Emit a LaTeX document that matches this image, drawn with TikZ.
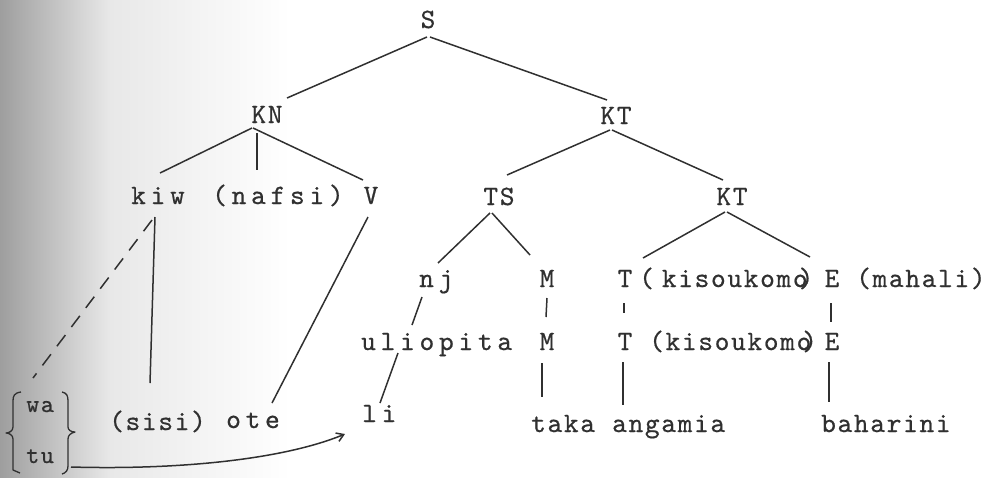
\documentclass[tikz,border=0pt]{standalone}
\usepackage{fontspec}
\usetikzlibrary{calc,arrows.meta}
\newfontfamily\twA{lmmono10-regular.otf}[LetterSpace=17,FakeBold=0.6]
\newfontfamily\twB{lmmono10-regular.otf}[LetterSpace=6,FakeBold=0.6]
\definecolor{ink}{HTML}{303030}
\tikzset{
  lbl/.style={inner sep=0pt, text height=16pt, text depth=0pt, text=ink, font=\twB\fontsize{28}{30}\selectfont},
  wide/.style={lbl, font=\twA\fontsize{28}{30}\selectfont},
  small/.style={lbl, font=\twB\fontsize{25}{27}\selectfont},
  edge/.style={draw=ink, line width=1.5pt},
  dashedge/.style={edge, dash pattern=on 14pt off 10pt},
}
\begin{document}
\begin{tikzpicture}[x=1pt,y=-1pt]
\useasboundingbox (0,0) rectangle (984,477);
% scan shading on the left
\shade[left color=black!38, right color=black!9] (0,0) rectangle (110,477);
\shade[left color=black!9, right color=white] (110,0) rectangle (290,477);
% row 0-1
\node[lbl, anchor=base] (S) at (428,28) {S};
\node[lbl, anchor=base] (KN) at (267,123) {KN};
\node[lbl, anchor=base] (KT) at (616,124) {KT};
% row 2
\node[wide, anchor=base west] (kiw) at (131,204) {kiw};
\node[wide, anchor=base west] (nafsi) at (212,204) {(nafsi)};
\node[lbl, anchor=base] (V) at (371,204) {V};
\node[lbl, anchor=base] (TS) at (499,205) {TS};
\node[lbl, anchor=base] (KTb) at (732,205) {KT};
% row 3
\node[wide, anchor=base west] (nj) at (419,287) {nj};
\node[lbl, anchor=base] (Ma) at (547,287) {M};
\node[lbl, anchor=base] (Ta) at (625,287) {T};
\node[lbl, anchor=base west] (kisa) at (639,287) {(\kern8pt{}kisoukomo\kern-9pt{})};
\node[lbl, anchor=base] (Ea) at (832,287) {E};
\node[lbl, anchor=base west] (mahali) at (856,287) {(mahali)};
% row 4
\node[wide, anchor=base west] (uli) at (361,350) {uliopita};
\node[lbl, anchor=base] (Mb) at (547,350) {M};
\node[lbl, anchor=base] (Tb) at (625,350) {T};
\node[lbl, anchor=base west] (kisb) at (649,350) {(kisoukomo\kern-9pt{})};
\node[lbl, anchor=base] (Eb) at (832,350) {E};
% row 5
\node[small, anchor=base west] (wa) at (26,412) {wa};
\node[small, anchor=base west] (tu) at (26,463) {tu};
\node[lbl, anchor=base west] (sisi) at (109,430) {(sisi)};
\node[wide, anchor=base west] (ote) at (226,428) {ote};
\node[wide, anchor=base west] (li) at (362,422) {li};
\node[lbl, anchor=base west] (taka) at (531,432) {taka};
\node[lbl, anchor=base west] (anga) at (612,432) {angamia};
\node[lbl, anchor=base west] (bah) at (821,432) {baharini};
% connectors
\draw[edge] ($(S.base)+(-1,9)$) -- ($(KN.base)+(20,-25)$);
\draw[edge] ($(S.base)+(2,9)$) -- ($(KT.base)+(-9,-24)$);
\draw[edge] ($(KN.base)+(-15,5)$) -- ($(kiw.base west)+(29,-31)$);
\draw[edge] ($(KN.base)+(-10,10)$) -- ($(nafsi.base west)+(45,-34)$);
\draw[edge] ($(KN.base)+(-14,5)$) -- ($(V.base)+(-8,-24)$);
\draw[edge] ($(KT.base)+(-6,6)$) -- ($(TS.base)+(8,-30)$);
\draw[edge] ($(KT.base)+(-4,6)$) -- ($(KTb.base)+(-9,-25)$);
\draw[edge] ($(TS.base)+(-9,8)$) -- ($(nj.base west)+(19,-24)$);
\draw[edge] ($(TS.base)+(-7,8)$) -- ($(Ma.base)+(-17,-32)$);
\draw[edge] ($(KTb.base)+(-7,7)$) -- ($(Ta.base)+(18,-29)$);
\draw[edge] ($(KTb.base)+(-5,7)$) -- ($(Ea.base)+(-22,-30)$);
\draw[edge] ($(nj.base west)+(3,10)$) -- ($(uli.base west)+(51,-25)$);
\draw[edge] ($(Ma.base)+(0,11)$) -- ($(Mb.base)+(-1,-33)$);
\draw[edge] ($(Ta.base)+(-1,16)$) -- ($(Tb.base)+(-1,-37)$);
\draw[edge] ($(Ea.base)+(-1,16)$) -- ($(Eb.base)+(-1,-28)$);
\draw[edge] ($(uli.base west)+(37,3)$) -- ($(li.base west)+(18,-19)$);
\draw[edge] ($(Mb.base)+(-5,13)$) -- ($(taka.base west)+(11,-35)$);
\draw[edge] ($(Tb.base)+(-2,12)$) -- ($(anga.base west)+(11,-27)$);
\draw[edge] ($(Eb.base)+(-3,12)$) -- ($(bah.base west)+(8,-30)$);
\draw[edge] ($(kiw.base west)+(24,13)$) -- ($(sisi.base west)+(41,-47)$);
\draw[dashedge] ($(kiw.base west)+(21,16)$) -- ($(wa.base west)+(7,-34)$);
\draw[edge] ($(V.base)+(-3,13)$) -- ($(ote.base west)+(46,-25)$);
\draw[edge, -{Straight Barb[length=7pt,width=9pt]}] ($(tu.base west)+(45,4)$)
  .. controls ($(tu.base west)+(150,7)$) and ($(li.base west)+(-80,38)$) .. ($(li.base west)+(-17,12)$);
% braces
\draw[ink, line width=1.3pt, line join=round]
  (21,392) .. controls (14,393) and (13,396) .. (13,401) -- (13,427)
  .. controls (13,431) and (9,433) .. (6,433)
  .. controls (9,433) and (13,435) .. (13,439) -- (13,470) -- (20,473);
\draw[ink, line width=1.3pt, line join=round]
  (62,392) .. controls (67,393) and (68,396) .. (68,401) -- (68,427)
  .. controls (68,430) and (71,432) .. (75,432)
  .. controls (71,433) and (68,435) .. (68,439) -- (68,466)
  .. controls (68,470) and (66,473) .. (62,474);
\end{tikzpicture}
\end{document}
